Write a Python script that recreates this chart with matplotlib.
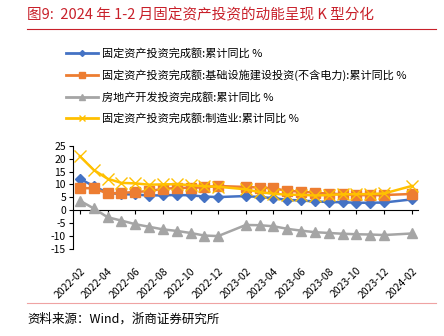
import matplotlib
matplotlib.use('Agg')
from matplotlib import pyplot as plt
from matplotlib.lines import Line2D

plt.rcParams['font.family'] = ['Noto Sans CJK SC', 'DejaVu Sans']
plt.rcParams['axes.unicode_minus'] = False

# months counted from 2022-02; January has no data (cumulative Jan-Feb)
months = [0, 1, 2, 3, 4, 5, 6, 7, 8, 9, 10,
          12, 13, 14, 15, 16, 17, 18, 19, 20, 21, 22,
          24]
tick_pos = list(range(0, 25, 2))
tick_labels = ['2022-02', '2022-04', '2022-06', '2022-08', '2022-10', '2022-12',
               '2023-02', '2023-04', '2023-06', '2023-08', '2023-10', '2023-12',
               '2024-02']

fai_total = [12.2, 9.3, 6.8, 6.2, 6.1, 5.7, 5.8, 5.9, 5.8, 5.3, 5.1,
             5.5, 5.1, 4.7, 4.0, 3.8, 3.4, 3.2, 3.1, 2.9, 2.9, 3.0,
             4.2]
infra = [8.6, 8.5, 6.5, 6.7, 7.1, 7.4, 8.3, 8.6, 8.7, 8.9, 9.4,
         9.0, 8.8, 8.5, 7.5, 7.2, 6.8, 6.4, 6.2, 5.9, 5.8, 5.9,
         6.3]
real_estate = [3.7, 0.7, -2.7, -4.0, -5.4, -6.4, -7.4, -8.0, -8.8, -9.8, -10.0,
               -5.7, -5.8, -6.2, -7.2, -7.9, -8.5, -8.8, -9.1, -9.3, -9.4, -9.6,
               -9.0]
manuf = [20.9, 15.6, 12.2, 10.6, 10.4, 9.9, 10.0, 10.1, 9.7, 9.3, 9.1,
         8.1, 7.0, 6.4, 6.0, 6.0, 5.7, 5.9, 6.2, 6.2, 6.3, 6.5,
         9.4]

names = ['固定资产投资完成额:累计同比 %',
         '固定资产投资完成额:基础设施建设投资(不含电力):累计同比 %',
         '房地产开发投资完成额:累计同比 %',
         '固定资产投资完成额:制造业:累计同比 %']

fig = plt.figure(figsize=(4.44, 3.36), dpi=100)
ax = fig.add_axes([0.1644, 0.259, 0.777, 0.3074])

ax.plot(months, fai_total, color='#4472C4', lw=1.8, marker='D', ms=5, zorder=3)
ax.plot(months, infra, color='#ED7D31', lw=1.8, marker='s', ms=7, zorder=4)
ax.plot(months, real_estate, color='#A5A5A5', lw=1.8, marker='^', ms=7, zorder=5)
ax.plot(months, manuf, color='#FFC000', lw=1.8, marker='x', ms=8, mew=1, zorder=6)

ax.set_xlim(-0.5, 24.45)
ax.set_ylim(-15, 25)
ax.set_yticks(range(-15, 30, 5))
ax.tick_params(axis='y', labelsize=7.5, length=3, color='black', pad=2)
for s in ['top', 'right']:
    ax.spines[s].set_visible(False)
ax.spines['left'].set_color('black')
ax.spines['bottom'].set_position(('data', 0))
ax.spines['bottom'].set_color('black')
ax.set_xticks(tick_pos)
ax.tick_params(axis='x', labelbottom=False, length=3, color='black')

sec = ax.secondary_xaxis(0)
sec.set_xticks(tick_pos)
sec.set_xticklabels(tick_labels, rotation=45, ha='right', rotation_mode='anchor')
sec.tick_params(length=0, labelsize=7.5, pad=12)
sec.spines['bottom'].set_visible(False)

handles = [
    Line2D([], [], color='#4472C4', lw=2, marker='D', ms=3),
    Line2D([], [], color='#ED7D31', lw=2, marker='s', ms=5),
    Line2D([], [], color='#A5A5A5', lw=2, marker='^', ms=4),
    Line2D([], [], color='#FFC000', lw=2, marker='x', ms=5, mew=1),
]
fig.legend(handles, names, loc='upper left', bbox_to_anchor=(0.126, 0.886),
           frameon=False, fontsize=8, handlelength=2.9, handletextpad=0.35,
           labelspacing=0.95)

red = '#C8202A'
fig.text(0.061, 0.955, '图9:  2024 年 1-2 月固定资产投资的动能呈现 K 型分化',
         color=red, fontsize=10.5, va='center', ha='left')
fig.add_artist(Line2D([0.061, 0.982], [0.913, 0.913], color=red, lw=0.8))
fig.add_artist(Line2D([0.061, 0.982], [0.097, 0.097], color='#EFA3A3', lw=0.8))
fig.text(0.061, 0.05, '资料来源：Wind，浙商证券研究所', fontsize=9,
         va='center', ha='left')

fig.savefig('out.png', dpi=100)
